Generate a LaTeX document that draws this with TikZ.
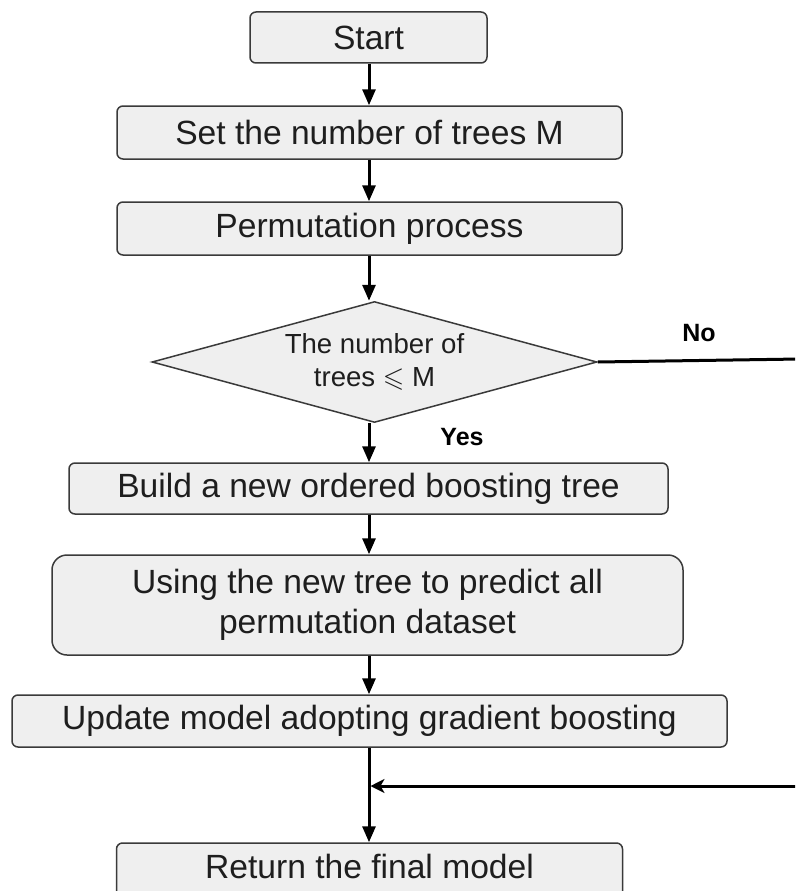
\documentclass[tikz,border=0pt]{standalone}
\usepackage{amssymb}
\usepackage{fontspec}
\setmainfont{Liberation Sans}
\usetikzlibrary{shapes.geometric,arrows.meta}

\definecolor{boxfill}{HTML}{EFEFEF}
\definecolor{boxline}{HTML}{3A3A3A}
\definecolor{ink}{HTML}{1E1E1E}

\tikzset{
  procbox/.style={draw=boxline, line width=1.5pt, fill=boxfill, rounded corners=6pt,
    inner sep=0pt, text=ink, font=\fontsize{33.6}{40}\selectfont, align=center},
  decision/.style={draw=boxline, line width=1.5pt, fill=boxfill, diamond, inner sep=0pt,
    aspect=3.678},
  decisiontext/.style={text=ink, font=\fontsize{27.6}{33}\selectfont, align=center, inner sep=0pt},
  flow/.style={line width=3pt, black, -{Triangle[length=16pt,width=13pt]}},
  plainflow/.style={line width=3pt, black},
  mergeflow/.style={line width=3pt, black, -{Stealth[length=14pt,width=14pt,inset=4pt]}},
  tag/.style={font=\bfseries\fontsize{25}{30}\selectfont, text=black}
}

\begin{document}
\begin{tikzpicture}[x=1pt, y=-1pt]
  \clip (0,0) rectangle (795,891);
  \fill[white] (0,0) rectangle (795,891);

  % process steps
  \node[procbox, minimum width=237pt, minimum height=51pt] (start) at (368.5,37.5) {Start};
  \node[procbox, minimum width=505pt, minimum height=53pt] (settrees) at (369.5,132.5) {Set the number of trees M};
  \node[procbox, minimum width=505pt, minimum height=53pt] (perm) at (369.5,228.5) {Permutation process};

  % decision: the diamond outline and its two-line question
  \node[decision, minimum width=445pt, minimum height=121pt] (check) at (374.5,362) {};
  \node[decisiontext] (checktext) at (check.center) {The number of\\trees \(\leqslant\) M};

  \node[procbox, minimum width=599pt, minimum height=51pt] (build) at (368.5,488.5) {Build a new ordered boosting tree};
  \node[procbox, rounded corners=15pt, minimum width=631pt, minimum height=100pt] (predict) at (367.5,605) {Using the new tree to predict all\\permutation dataset};
  \node[procbox, minimum width=715pt, minimum height=52pt] (update) at (369.5,721) {Update model adopting gradient boosting};
  \node[procbox, minimum width=506pt, minimum height=80pt, text height=35pt, text depth=45pt] (final) at (369.5,883) {Return the final model};

  % branch labels
  \node[tag] (nolabel) at (699,333) {No};
  \node[tag] (yeslabel) at (462,437) {Yes};

  % loop-back route on the right
  \coordinate (outright) at (800,359);
  \coordinate (backright) at (800,786);
  \coordinate (merge) at (369,786);

  % connectors
  \draw[flow] (start.south -| 369,0) -- (settrees.north -| 369,0);
  \draw[flow] (settrees.south -| 369,0) -- (perm.north -| 369,0);
  \draw[flow] (perm.south -| 369,0) -- (check.north -| 369,0);
  \draw[flow] (check.south -| 369,0) -- (build.north -| 369,0);
  \draw[flow] (build.south -| 369,0) -- (predict.north -| 369,0);
  \draw[flow] (predict.south -| 369,0) -- (update.north -| 369,0);
  \draw[flow] (update.south -| 369,0) -- (final.north -| 369,0);
  \draw[plainflow] (check.east) -- (outright);
  \draw[mergeflow] (backright) -- ([xshift=1.5pt]merge);
\end{tikzpicture}
\end{document}
